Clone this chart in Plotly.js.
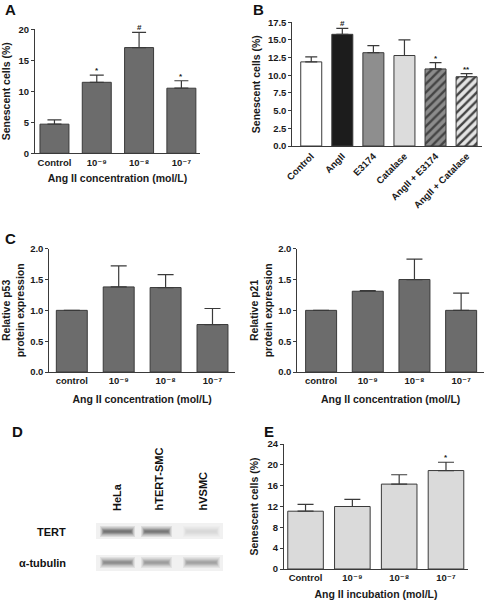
<!DOCTYPE html>
<html><head><meta charset="utf-8">
<script src="https://cdn.plot.ly/plotly-3.0.1.min.js"></script>
<style>html,body{margin:0;padding:0;background:#fff}</style>
</head><body><div id="chart" style="width:488px;height:600px"></div>
<script>
// ---- Panel A ----
const aCats = ['Control','10⁻⁹','10⁻⁸','10⁻⁷'];
const aVals = [4.7, 11.45, 17.05, 10.5];
const aErr = [0.7, 1.15, 2.45, 1.2];
const aMarks = ['', '*', '#', '*'];
// ---- Panel B ----
const bCats = ['Control','AngII','E3174','Catalase','AngII + E3174','AngII + Catalase'];
const bVals = [11.9, 15.8, 13.2, 12.8, 10.9, 9.8];
const bErr = [0.7, 0.85, 1.0, 2.2, 0.9, 0.45];
const bMarks = ['', '#', '', '', '*', '**'];
// ---- Panel C ----
const cCats = ['control','10⁻⁹','10⁻⁸','10⁻⁷'];
const p53Vals = [1.0, 1.38, 1.37, 0.77];
const p53Err = [0, 0.34, 0.21, 0.26];
const p21Vals = [1.0, 1.31, 1.5, 1.0];
const p21Err = [0, 0.01, 0.33, 0.28];
// ---- Panel D (blot) ----
const lanes = ['HeLa','hTERT-SMC','hVSMC'];
const blotRows = ['TERT','α-tubulin'];
const bandDarkness = [[0.9, 0.88, 0.2],[0.72, 0.62, 0.58]];
// ---- Panel E ----
const eCats = ['Control','10⁻⁹','10⁻⁸','10⁻⁷'];
const eVals = [11.1, 12.0, 16.3, 18.9];
const eErr = [1.3, 1.35, 1.8, 1.6];
const eMarks = ['', '', '', '*'];

const W = 488, H = 600;
const px = v => v / W;
const py = v => 1 - v / H;
const FONT = 'Liberation Sans, Arial, Helvetica, DejaVu Sans, sans-serif';
const zeros = a => a.map(() => 0);

function errY(arr, w) {
  return {type:'data', symmetric:false, array:arr, arrayminus:zeros(arr), color:'#3a3a3a', thickness:1.2, width:w, visible:true};
}

const traces = [];
traces.push({type:'bar', x:aCats, y:aVals, xaxis:'x', yaxis:'y', width:0.685,
  marker:{color:'#6c6c6c', line:{color:'#3a3a3a', width:1}}, error_y:errY(aErr,7)});

const bFill = ['#ffffff','#1c1c1c','#8e8e8e','#dcdcdc','#8c8c8c','#e4e4e4'];
const bPat = ['','','','','/','/'];
traces.push({type:'bar', x:bCats, y:bVals, xaxis:'x2', yaxis:'y2', width:0.676,
  marker:{color:bFill, line:{color:'#3a3a3a', width:1},
    pattern:{shape:bPat, fillmode:'overlay', fgcolor:'#2e2e2e', fgopacity:1, size:6, solidity:0.4}},
  error_y:errY(bErr,6)});

traces.push({type:'bar', x:cCats, y:p53Vals, xaxis:'x3', yaxis:'y3', width:0.66,
  marker:{color:'#6c6c6c', line:{color:'#3a3a3a', width:1}}, error_y:errY(p53Err,8)});
traces.push({type:'bar', x:cCats, y:p21Vals, xaxis:'x4', yaxis:'y4', width:0.664,
  marker:{color:'#6c6c6c', line:{color:'#3a3a3a', width:1}}, error_y:errY(p21Err,8)});

traces.push({type:'bar', x:eCats, y:eVals, xaxis:'x5', yaxis:'y5', width:0.76,
  marker:{color:'#dadada', line:{color:'#3a3a3a', width:1}}, error_y:errY(eErr,8)});

const tf = {family:FONT, size:9.5, color:'#1a1a1a', weight:'bold'};
const ttf = {family:FONT, size:10.5, color:'#1a1a1a', weight:'bold'};

function xax(d, range, title, standoff, extra) {
  return Object.assign({domain:[px(d[0]), px(d[1])], range:range, type:'category',
    showline:true, linecolor:'#3a3a3a', linewidth:1, ticks:'', showgrid:false, zeroline:false,
    tickfont:tf, fixedrange:true,
    title:{text:title, font:ttf, standoff:standoff}}, extra||{});
}
function yax(d, range, dtick, title, standoff, extra) {
  return Object.assign({domain:[py(d[1]), py(d[0])], range:range, dtick:dtick,
    showline:true, linecolor:'#3a3a3a', linewidth:1, ticks:'outside', ticklen:3, tickcolor:'#3a3a3a',
    showgrid:false, zeroline:false, tickfont:tf, fixedrange:true,
    title:{text:title, font:ttf, standoff:standoff}}, extra||{});
}

const layout = {
  width:W, height:H, margin:{l:0,r:0,t:0,b:0}, paper_bgcolor:'#fff', plot_bgcolor:'rgba(0,0,0,0)',
  showlegend:false, font:{family:FONT, size:9.5, color:'#1a1a1a', weight:'bold'},
  bargap:0,
  xaxis: xax([35,200], [-0.46,3.44], 'Ang II concentration (mol/L)', 7, {anchor:'y'}),
  yaxis: yax([29.3,153.3], [0,20], 5, 'Senescent cells (%)', 7, {anchor:'x'}),
  xaxis2: xax([292.3,481.5], [-0.61,5.48], '', 4, {anchor:'y2', tickangle:-45}),
  yaxis2: yax([22.3,146], [0,17.5], 2.5, 'Senescent cells (%)', 5, {anchor:'x2', tickformat:'.1f'}),
  xaxis3: xax([49.3,235], [-0.48,3.48], 'Ang II concentration (mol/L)', 10, {anchor:'y3'}),
  yaxis3: yax([248.7,372], [0,2], 0.5, 'Relative p53<br>protein expression', 3, {anchor:'x3', tickformat:'.1f'}),
  xaxis4: xax([297.3,484], [-0.51,3.49], 'Ang II concentration (mol/L)', 10, {anchor:'y4'}),
  yaxis4: yax([248.7,372], [0,2], 0.5, 'Relative p21<br>protein expression', 3, {anchor:'x4', tickformat:'.1f'}),
  xaxis5: xax([284,468], [-0.46,3.47], 'Ang II incubation (mol/L)', 8, {anchor:'y5'}),
  yaxis5: yax([444,569], [0,24], 4, 'Senescent cells (%)', 6, {anchor:'x5'}),
  annotations: [], shapes: []
};

// panel letters
[['A',3,9],['B',251,9],['C',3,238],['D',10,431],['E',262,431]].forEach(([t,x,y]) => {
  layout.annotations.push({text:t, xref:'paper', yref:'paper', x:px(x), y:py(y), xanchor:'left', yanchor:'middle',
    showarrow:false, font:{family:FONT, size:15, color:'#111', weight:'bold'}});
});

// significance marks
function marks(cats, vals, errs, mk, xr, yr) {
  mk.forEach((m,i) => {
    if (!m) return;
    layout.annotations.push({text:m, x:cats[i], y:vals[i]+errs[i], xref:xr, yref:yr, yanchor:'bottom',
      showarrow:false, yshift:-2, font:{family:FONT, size:8, color:'#1a1a1a', weight:'bold'}});
  });
}
marks(aCats, aVals, aErr, aMarks, 'x', 'y');
marks(bCats, bVals, bErr, bMarks, 'x2', 'y2');
marks(eCats, eVals, eErr, eMarks, 'x5', 'y5');

// Panel D blot drawing
const laneX = [[100,135],[141,172],[183,220]];
const laneLabelX = [117,158,202];
const rowY = [531.5, 562.5];
const stripY = [[523,539],[555,571]];
lanes.forEach((l,i) => {
  layout.annotations.push({text:l, xref:'paper', yref:'paper', x:px(laneLabelX[i]), y:py(513),
    xanchor:'center', yanchor:'bottom', textangle:-90, showarrow:false,
    font:{family:FONT, size:11, color:'#111', weight:'bold'}});
});
blotRows.forEach((r,j) => {
  layout.annotations.push({text:r, xref:'paper', yref:'paper', x:px(68), y:py(rowY[j]),
    xanchor:'right', yanchor:'middle', showarrow:false,
    font:{family:FONT, size:11, color:'#111', weight:'bold'}});
  layout.shapes.push({type:'rect', xref:'paper', yref:'paper', x0:px(96), x1:px(223),
    y0:py(stripY[j][1]), y1:py(stripY[j][0]), fillcolor:'#f1f1f1', line:{width:0}, layer:'below'});
  lanes.forEach((l,i) => {
    const d = bandDarkness[j][i];
    const g = Math.round(245 - d*165);
    const col = `rgb(${g},${g},${g})`;
    const [x0,x1] = laneX[i];
    const cy = rowY[j];
    [[5.5,0.15],[4.2,0.2],[3,0.3],[2,0.4],[1,0.5]].forEach(([h,op]) => {
      const inset = (5.5-h)*0.8;
      layout.shapes.push({type:'rect', xref:'paper', yref:'paper',
        x0:px(x0 + inset), x1:px(x1 - inset), y0:py(cy+h), y1:py(cy-h),
        fillcolor:col, opacity:op, line:{width:0}});
    });
  });
});

Plotly.newPlot('chart', traces, layout, {staticPlot:true, displayModeBar:false});
</script></body></html>
